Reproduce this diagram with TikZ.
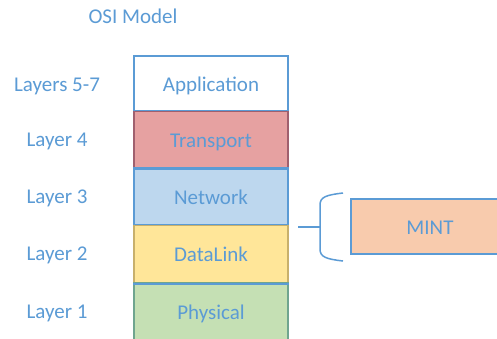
\documentclass[tikz,border=0pt]{standalone}
\usepackage{fontspec}
\setmainfont{Carlito}
\definecolor{txt}{HTML}{5B9BD5}
\definecolor{edgeblue}{HTML}{5B9BD5}
\definecolor{transfill}{HTML}{E6A1A1}
\definecolor{transedge}{HTML}{A0606E}
\definecolor{netfill}{HTML}{BDD7EE}
\definecolor{dlfill}{HTML}{FFE699}
\definecolor{dledge}{HTML}{C8B06C}
\definecolor{phyfill}{HTML}{C5E0B4}
\definecolor{phyedge}{HTML}{6FA58F}
\definecolor{mintfill}{HTML}{F8CBAD}
\begin{document}
\begin{tikzpicture}[x=1pt,y=-1pt,
  font=\fontsize{21}{25}\selectfont, text=txt,
  txtbox/.style={text height=19.4pt, text depth=4pt},
  layerbox/.style={rectangle, txtbox, minimum width=154pt, inner sep=0pt, line width=1.5pt},
  sideline/.style={line width=1.5pt, draw=edgeblue},
  lbl/.style={txtbox, inner sep=0pt},
  bracket/.style={draw=edgeblue, line width=1.5pt}]
\clip (0,0) rectangle (497,338);
\fill[white] (0,0) rectangle (497,338);
% title
\node[lbl] (title) at (133,15.7) {OSI Model};
% layer boxes
\node[layerbox, fill=white, draw=edgeblue, minimum height=55pt] (app) at (211,83.5) {Application};
\node[layerbox, fill=transfill, draw=transedge, minimum height=57pt] (trans) at (211,139.5) {Transport};
\node[layerbox, fill=netfill, draw=edgeblue, minimum height=57pt] (net) at (211,196.5) {Network};
\node[layerbox, fill=dlfill, draw=dledge, minimum height=58pt] (dl) at (211,254) {DataLink};
\node[layerbox, fill=phyfill, draw=phyedge, minimum height=62pt] (phy) at (211,314) {\raisebox{2pt}{Physical}};
% blue boundary lines
\draw[sideline] (trans.north west) -- (trans.north east);
\draw[sideline] (trans.south west) -- (trans.south east);
\draw[sideline] (dl.north west) -- (dl.north east);
\draw[sideline] (dl.south west) -- (dl.south east);
% left labels
\node[lbl] (l57) at (57,83.3) {Layers 5-7};
\node[lbl] (l4) at (57,139) {Layer 4};
\node[lbl] (l3) at (57,196) {Layer 3};
\node[lbl] (l2) at (57,253) {Layer 2};
\node[lbl] (l1) at (57,310.3) {Layer 1};
% MINT box
\node[rectangle, txtbox, inner sep=0pt, minimum width=158pt, minimum height=55pt, fill=mintfill, draw=edgeblue, line width=1.5pt] (mint) at (430,226.5) {MINT};
% bracket
\coordinate (brtip) at (298,227);
\coordinate (brmid) at (320,227);
\draw[bracket] (brtip) -- (brmid);
\draw[bracket] (343,193) .. controls (326,195) and (320,197) .. (320,205) -- (320,249) .. controls (320,257) and (326,259) .. (343,261);
\end{tikzpicture}
\end{document}
